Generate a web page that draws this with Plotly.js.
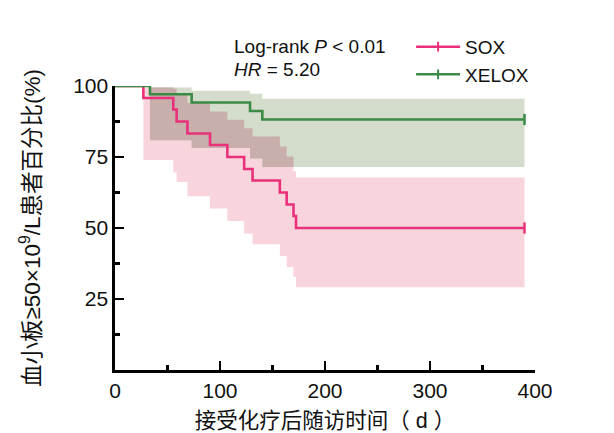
<!DOCTYPE html>
<html>
<head>
<meta charset="utf-8">
<script src="https://cdn.plot.ly/plotly-3.0.1.min.js"></script>
<style>
html,body{margin:0;padding:0;background:#fff;}
#chart{width:614px;height:433px;}
</style>
</head>
<body>
<div id="chart"></div>
<script>
// ---- data ----
const soxTime  = [0, 27, 55.5, 58.7, 69, 90.5, 107, 123, 131, 157, 163.5, 170, 172.4, 390];
const soxSurv  = [100, 95.8, 91.7, 87.5, 83.3, 79.2, 75, 70.8, 66.7, 62.5, 58.3, 54.2, 50, 50];
const soxLower = [100, 73.9, 69.5, 66.2, 61.2, 56.9, 52.5, 48.1, 44.3, 40.1, 36.3, 32.8, 29.1, 29.1];
const soxUpper = [100, 99.5, 99.0, 97.5, 94.0, 91.0, 88.1, 85.1, 82.2, 78.7, 75.2, 70.0, 67.8, 67.8];

const xeloxTime  = [0, 33.3, 73, 128.6, 140.3, 390];
const xeloxSurv  = [100, 97.1, 94.2, 91.2, 88.2, 88.2];
const xeloxLower = [100, 80.9, 78.2, 74.5, 71.5, 71.5];
const xeloxUpper = [100, 99.5, 98.3, 97.3, 95.5, 95.5];

const censorTime = [390];
const soxCensor = [50];
const xeloxCensor = [88.2];

const xTicks = [0, 100, 200, 300, 400];
const xMinor = [50, 150, 250, 350];
const yTicks = [25, 50, 75, 100];
const yMinor = [12.5, 37.5, 62.5, 87.5];

const pink = '#e8317a';
const green = '#3b8a46';
const FONT = 'Liberation Sans, Arial, "Noto Sans CJK SC", sans-serif';

// overlap of the two confidence bands, derived from the arrays above
function stepAt(t, times, vals) {
  let v = vals[0];
  for (let i = 0; i < times.length; i++) { if (times[i] <= t) v = vals[i]; }
  return v;
}
const allTime = Array.from(new Set(soxTime.concat(xeloxTime))).sort((a, b) => a - b);
const ovLower = allTime.map(t => Math.max(stepAt(t, soxTime, soxLower), stepAt(t, xeloxTime, xeloxLower)));
const ovUpper = allTime.map((t, i) => Math.max(ovLower[i], Math.min(stepAt(t, soxTime, soxUpper), stepAt(t, xeloxTime, xeloxUpper))));

function band(t, lo, hi, col) {
  return [
    {x: t, y: lo, mode: 'lines', line: {width: 0, shape: 'hv'}, showlegend: false, hoverinfo: 'skip'},
    {x: t, y: hi, mode: 'lines', line: {width: 0, shape: 'hv'}, fill: 'tonexty', fillcolor: col, showlegend: false, hoverinfo: 'skip'}
  ];
}

function censorMarker(col) {
  return {symbol: 'line-ns-open', size: 8, color: col, line: {color: col, width: 2.5}};
}

const traces = [
  ...band(soxTime, soxLower, soxUpper, '#f8d4dd'),
  ...band(xeloxTime, xeloxLower, xeloxUpper, '#d4dccb'),
  ...band(allTime, ovLower, ovUpper, '#c9afab'),
  {x: soxTime, y: soxSurv, mode: 'lines', line: {color: pink, width: 2.6, shape: 'hv'}, showlegend: false, cliponaxis: false},
  {x: xeloxTime, y: xeloxSurv, mode: 'lines', line: {color: green, width: 2.6, shape: 'hv'}, showlegend: false, cliponaxis: false},
  {x: censorTime, y: soxCensor, mode: 'markers', marker: censorMarker(pink), showlegend: false, cliponaxis: false},
  {x: censorTime, y: xeloxCensor, mode: 'markers', marker: censorMarker(green), showlegend: false, cliponaxis: false},
  {x: [null], y: [null], name: 'SOX', mode: 'lines+markers', line: {color: pink, width: 2.5},
   marker: {symbol: 'line-ns-open', size: 7, color: pink, line: {color: pink, width: 2}}},
  {x: [null], y: [null], name: 'XELOX', mode: 'lines+markers', line: {color: green, width: 2.5},
   marker: {symbol: 'line-ns-open', size: 7, color: green, line: {color: green, width: 2}}}
];

const axisCommon = {
  showline: true, linecolor: '#000', linewidth: 2.6, mirror: false,
  showgrid: false, zeroline: false,
  ticks: 'inside', ticklen: 9, tickwidth: 2.6, tickcolor: '#000',
  tickfont: {family: FONT, size: 21, color: '#111'},
  fixedrange: true
};

const layout = {
  width: 614, height: 433,
  margin: {l: 115, r: 79, t: 86, b: 63},
  paper_bgcolor: '#fff', plot_bgcolor: '#fff',
  font: {family: FONT, color: '#111'},
  xaxis: Object.assign({}, axisCommon, {
    range: [0, 400], tickmode: 'array', tickvals: xTicks,
    minor: {tickmode: 'array', tickvals: xMinor, ticks: 'inside', ticklen: 5, tickwidth: 2.6, tickcolor: '#000'},
    title: {text: '接受化疗后随访时间（ d ）', font: {family: FONT, size: 21.5, color: '#111'}, standoff: 15}
  }),
  yaxis: Object.assign({}, axisCommon, {
    range: [0, 100], tickmode: 'array', tickvals: yTicks,
    minor: {tickmode: 'array', tickvals: yMinor, ticks: 'inside', ticklen: 5, tickwidth: 2.6, tickcolor: '#000'},
    title: {text: '血小板≥50×10<sup>9</sup>/L患者百分比(%)', font: {family: FONT, size: 22.5, color: '#111'}, standoff: 27}
  }),
  legend: {
    x: 0.705, y: 1.205, xanchor: 'left', yanchor: 'top', traceorder: 'normal',
    bgcolor: 'rgba(0,0,0,0)', font: {family: FONT, size: 19, color: '#111'},
    itemwidth: 44, tracegroupgap: 0
  },
  annotations: [
    {xref: 'paper', yref: 'paper', x: 0.278, y: 1.14, xanchor: 'left', yanchor: 'middle', showarrow: false,
     text: 'Log-rank <i>P</i> &lt; 0.01', font: {family: FONT, size: 19, color: '#111'}},
    {xref: 'paper', yref: 'paper', x: 0.278, y: 1.057, xanchor: 'left', yanchor: 'middle', showarrow: false,
     text: '<i>HR</i> = 5.20', font: {family: FONT, size: 19, color: '#111'}}
  ],
  showlegend: true
};

Plotly.newPlot('chart', traces, layout, {displayModeBar: false, staticPlot: true});
</script>
</body>
</html>
